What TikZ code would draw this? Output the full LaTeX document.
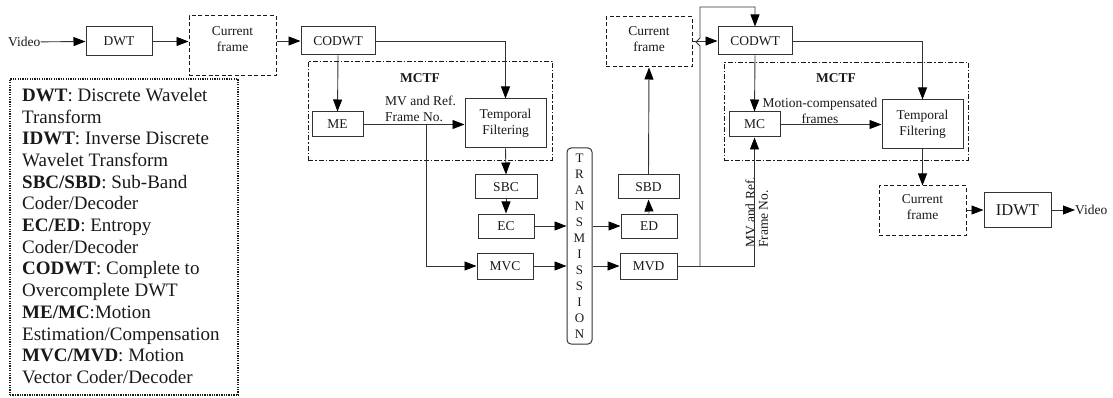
\documentclass[tikz,border=0pt]{standalone}
\usepackage{fontspec}
\setmainfont{Liberation Serif}
\usetikzlibrary{arrows.meta,calc}
\begin{document}
\begin{tikzpicture}[x=1pt,y=-1pt,
  every node/.style={font=\fontsize{13.5}{16}\selectfont, inner sep=0pt, text=black!90},
  blk/.style={draw=black!80, line width=1pt, align=center},
  dbox/.style={draw=black!90, line width=1pt, dash pattern=on 4pt off 2.5pt},
  ddbox/.style={draw=black!90, line width=0.9pt, dash pattern=on 5pt off 2pt on 1.5pt off 2pt},
  ln/.style={draw=black!80, line width=0.9pt},
  arr/.style={ln, -{Triangle[length=12pt,width=9pt,fill=black,color=black]}}
]
\useasboundingbox (0,0) rectangle (1113,398);

% legend
\node[draw=black!90, line width=1.4pt, dash pattern=on 1.3pt off 1.1pt, minimum width=228pt, minimum height=316pt] (legend) at (124,237) {};
\node[anchor=north west, align=left, font=\fontsize{19}{21.7}\selectfont] (legtext) at (22,88)
 {\textbf{DWT}: Discrete Wavelet\\Transform\\\textbf{IDWT}: Inverse Discrete\\Wavelet Transform\\\textbf{SBC/SBD}: Sub-Band\\Coder/Decoder\\\textbf{EC/ED}: Entropy\\Coder/Decoder\\\textbf{CODWT}: Complete to\\Overcomplete DWT\\\textbf{ME/MC}:Motion\\Estimation/Compensation\\\textbf{MVC/MVD}: Motion\\Vector Coder/Decoder};

% MCTF frames
\node[ddbox, minimum width=244pt, minimum height=99pt] (mctfA) at (430,110.5) {};
\node[ddbox, minimum width=244pt, minimum height=98pt] (mctfB) at (846,111) {};
\node[font=\fontsize{13.5}{16}\selectfont\bfseries] (mctfAl) at (420,78) {MCTF};
\node[font=\fontsize{13.5}{16}\selectfont\bfseries] (mctfBl) at (836,78) {MCTF};

% encoder side
\node[anchor=west] (vin) at (8,42) {Video};
\node[blk, minimum width=66pt, minimum height=29pt] (dwt) at (119,41.5) {DWT};
\node[dbox, minimum width=87pt, minimum height=60pt,
  label={[align=center, yshift=6.5pt]center:Current\\frame}] (cf1) at (232.5,46) {};
\node[blk, minimum width=74pt, minimum height=28pt] (codwt1) at (338,41) {CODWT};
\node[blk, minimum width=51pt, minimum height=25pt] (me) at (337.5,124.5) {ME};
\node[blk, minimum width=81pt, minimum height=49pt] (tf1) at (505.5,123.5) {Temporal\\Filtering};
\node[blk, minimum width=62pt, minimum height=24pt] (sbc) at (506,187) {SBC};
\node[blk, minimum width=56pt, minimum height=24pt] (ec) at (506,226) {EC};
\node[blk, minimum width=56pt, minimum height=26pt] (mvc) at (505,266) {MVC};
\node[anchor=west, align=left] (mvlabA) at (385,108.5) {MV and Ref.\\Frame No.};

% transmission
\node[draw=black!80, line width=1pt, rounded corners=4pt, minimum width=25pt, minimum height=196pt, align=center, font=\fontsize{13}{16}\selectfont] (trans) at (579.5,246) {T\\R\\A\\N\\S\\M\\I\\S\\S\\I\\O\\N};

% decoder side
\node[blk, minimum width=56pt, minimum height=24pt] (ed) at (649,226) {ED};
\node[blk, minimum width=57pt, minimum height=26pt] (mvd) at (648.5,266) {MVD};
\node[blk, minimum width=61pt, minimum height=24pt] (sbd) at (648.5,187) {SBD};
\node[dbox, minimum width=86pt, minimum height=50pt,
  label={[align=center, yshift=2.5pt]center:Current\\frame}] (cf2) at (649,42) {};
\node[blk, minimum width=74pt, minimum height=28pt] (codwt2) at (755,41) {CODWT};
\node[blk, minimum width=51pt, minimum height=25pt] (mc) at (754.5,124.5) {MC};
\node[blk, minimum width=81pt, minimum height=49pt] (tf2) at (922.5,124.5) {Temporal\\Filtering};
\node[dbox, minimum width=87pt, minimum height=49pt,
  label={[align=center, yshift=3.5pt]center:Current\\frame}] (cf3) at (922.5,210.5) {};
\node[blk, minimum width=67pt, minimum height=34pt, font=\fontsize{16.5}{18}\selectfont] (idwt) at (1017.5,210) {IDWT};
\node[anchor=west] (vout) at (1075,210) {Video};
\node[align=center] (mclab) at (820,110.5) {Motion-compensated\\frames};
\node[rotate=90, align=left, font=\fontsize{13.5}{13}\selectfont] (mvlabB) at (756.8,212.5) {MV and Ref.\\Frame No.};

% connectors encoder
\draw[arr] (vin) -- (dwt.west);
\draw[arr] (dwt.east) -- (dwt.east -| cf1.west);
\draw[arr] (cf1.east |- codwt1.west) -- (codwt1.west);
\draw[arr] (codwt1.south) -- (me.north);
\draw[arr] (codwt1.east) -| (tf1.north);
\draw[arr] (me.east) -- (me.east -| tf1.west);
\coordinate (br1) at (426,124);
\draw[arr] (br1) |- (mvc.west);
\draw[arr] (tf1.south) -- (sbc.north);
\draw[arr] (sbc.south) -- (ec.north);
\draw[arr] (ec.east) -- (ec.east -| trans.west);
\draw[arr] (mvc.east) -- (mvc.east -| trans.west);

% connectors decoder
\draw[arr] (trans.east |- ed.west) -- (ed.west);
\draw[arr] (trans.east |- mvd.west) -- (mvd.west);
\draw[arr] (ed.north) -- (sbd.south);
\draw[arr] (sbd.north) -- (cf2.south);
\draw[arr] (cf2.east |- codwt2.west) -- (codwt2.west);
\draw[arr] (mvd.east) -| (mc.south);
\coordinate (br2) at (700,266);
\draw[arr] (br2) -- ++(0,-220) -- ++(-4,-4) -- ++(4,-4) -- ++(0,-31) -| (codwt2.north);
\draw[arr] (codwt2.south) -- (mc.north);
\draw[arr] (codwt2.east) -| (tf2.north);
\draw[arr] (mc.east) -- (mc.east -| tf2.west);
\draw[arr] (tf2.south) -- (cf3.north);
\draw[arr] (cf3.east |- idwt.west) -- (idwt.west);
\draw[arr] (idwt.east) -- (vout.west);
\end{tikzpicture}
\end{document}
